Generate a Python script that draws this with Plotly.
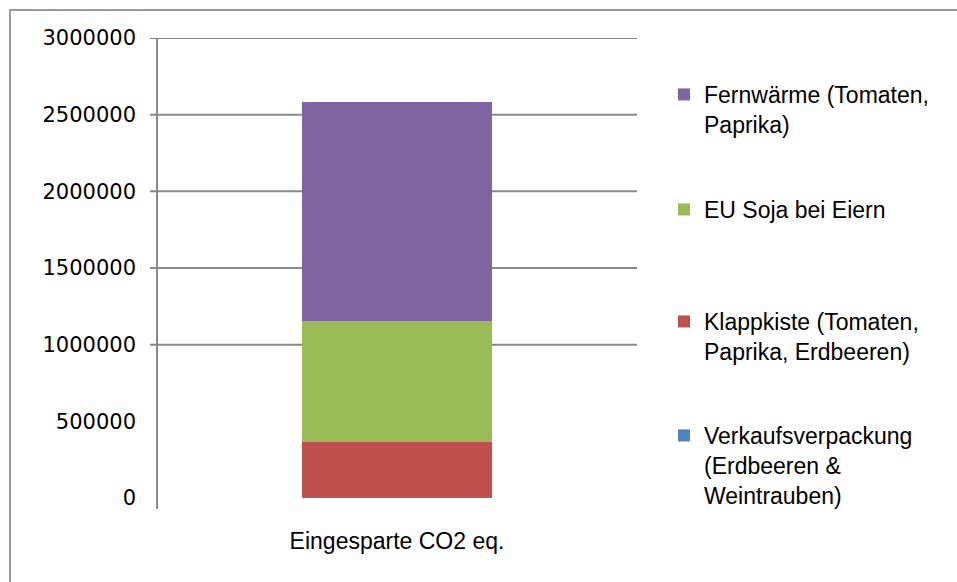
import plotly.graph_objects as go

# Saved CO2 equivalents, stacked per measure
category = ["Eingesparte CO2 eq."]
series_names = [
    "Verkaufsverpackung<br>(Erdbeeren &<br>Weintrauben)",
    "Klappkiste (Tomaten,<br>Paprika, Erdbeeren)",
    "EU Soja bei Eiern",
    "Fernwärme (Tomaten,<br>Paprika)",
]
series_values = [4000, 358000, 790000, 1430000]
series_colors = ["#4F81BD", "#C0504D", "#9BBB59", "#8064A2"]

y_ticks = [0, 500000, 1000000, 1500000, 2000000, 2500000, 3000000]
y_tick_labels = ["0", "500000", "1000000", "1500000", "2000000", "2500000", "3000000"]
grid_values = [1000000, 1500000, 2000000, 2500000, 3000000]

W, H = 957, 582
L, R, T, B = 157, 320, 38, 84
plot_w = W - L - R
plot_h = H - T - B


def px_x(px):
    return (px - L) / plot_w


def px_y(py):
    return (H - B - py) / plot_h


# legend top positions (pixels) for each series, one legend per series
legend_tops = [414, 300, 188, 73]
legend_ids = ["legend4", "legend3", "legend2", "legend"]

fig = go.Figure()
for name, val, col, lid in zip(series_names, series_values, series_colors, legend_ids):
    fig.add_trace(go.Bar(
        x=category, y=[val], name=name, marker_color=col,
        marker_line_width=0, width=0.395, legend=lid,
    ))

text_font = dict(family="Liberation Sans, Arial, sans-serif", size=23, color="#000000")

layout_legends = {}
for lid, top in zip(legend_ids, legend_tops):
    layout_legends[lid] = dict(
        x=px_x(664), xanchor="left", y=px_y(top), yanchor="top",
        font=text_font, bgcolor="rgba(0,0,0,0)", borderwidth=0,
        valign="top", itemclick=False, itemdoubleclick=False,
    )

shapes = []
# outer chart frame (top and left edges visible)
shapes.append(dict(type="rect", xref="paper", yref="paper",
                   x0=px_x(10), x1=px_x(990), y0=px_y(620), y1=px_y(10),
                   line=dict(color="#9a9a9a", width=2), layer="below"))
# horizontal gridlines with outside tick stubs
for gv in grid_values:
    shapes.append(dict(type="line", xref="paper", yref="y",
                       x0=px_x(150), x1=px_x(637), y0=gv, y1=gv,
                       line=dict(color="#898989", width=2), layer="below"))
# value axis line
shapes.append(dict(type="line", xref="paper", yref="paper",
                   x0=0, x1=0, y0=px_y(509), y1=1,
                   line=dict(color="#898989", width=2), layer="above"))

fig.update_layout(
    width=W, height=H,
    margin=dict(l=L, r=R, t=T, b=B, pad=0),
    paper_bgcolor="#ffffff", plot_bgcolor="#ffffff",
    barmode="stack",
    showlegend=True,
    shapes=shapes,
    **layout_legends,
)
fig.update_yaxes(
    range=[0, 3000000], tickvals=y_ticks, ticktext=y_tick_labels,
    showgrid=False, zeroline=False, showline=False, ticks="",
    ticklabelstandoff=20,
    tickfont=dict(family="DejaVu Sans, sans-serif", size=21, color="#000000"),
)
fig.update_xaxes(
    showgrid=False, zeroline=False, showline=False, ticks="",
    ticklabelstandoff=27,
    tickfont=dict(family="Liberation Sans, Arial, sans-serif", size=23, color="#000000"),
)

fig.write_html("out.html")
